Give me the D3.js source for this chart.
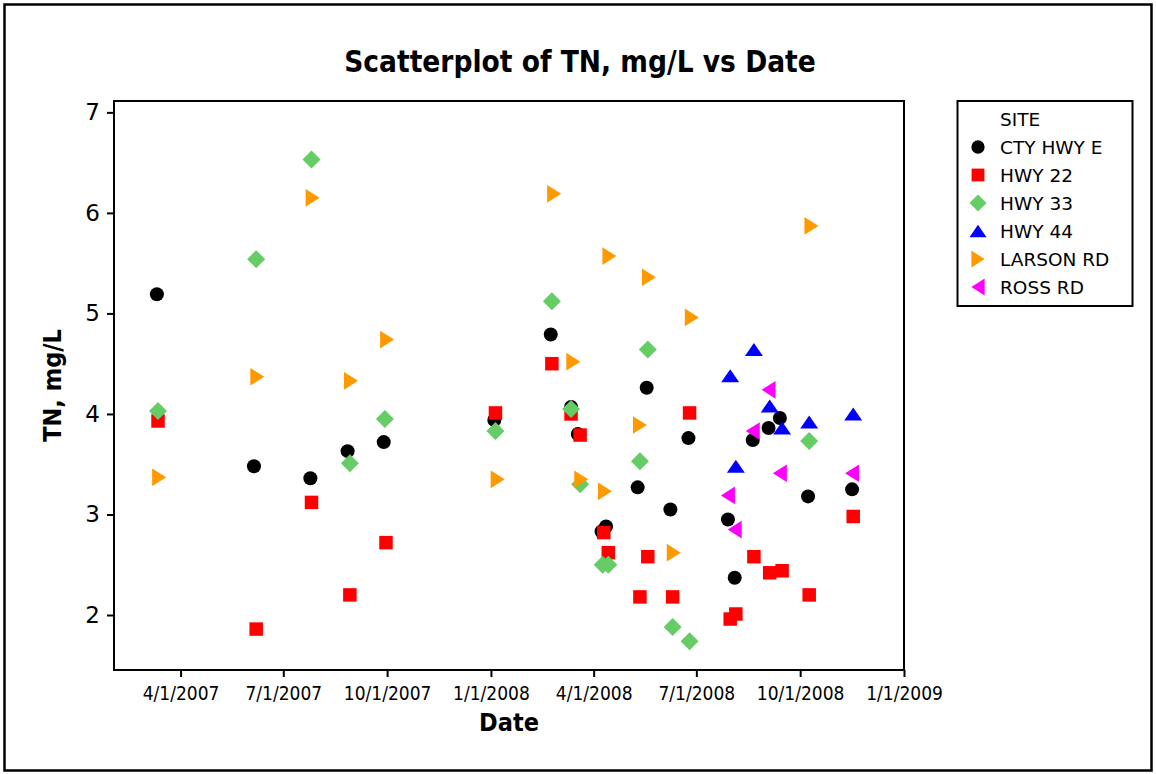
<!DOCTYPE html>
<html><head><meta charset="utf-8">
<script src="https://cdn.jsdelivr.net/npm/d3@7"></script>
<style>body{margin:0;background:#fff} svg{display:block}</style>
</head><body><svg id="c" width="1156" height="774"></svg>
<script>
// ---- data ----
const siteNames = ["CTY HWY E", "HWY 22", "HWY 33", "HWY 44", "LARSON RD", "ROSS RD"];
const siteColors = ["#000000", "#FF0000", "#66CC66", "#0000FF", "#FF9900", "#FF00FF"];

const ctyDates = ["2007-03-11","2007-06-05","2007-07-25","2007-08-27","2007-09-28","2008-01-04","2008-02-23","2008-03-12","2008-03-18","2008-04-08","2008-04-12","2008-05-10","2008-05-18","2008-06-08","2008-06-24","2008-07-29","2008-08-04","2008-08-20","2008-09-03","2008-09-13","2008-10-08","2008-11-16"];
const ctyValues = [5.19,3.48,3.36,3.63,3.72,3.94,4.79,4.07,3.80,2.83,2.88,3.27,4.26,3.05,3.76,2.95,2.37,3.74,3.86,3.96,3.18,3.25];

const hwy22Dates = ["2007-03-12","2007-06-07","2007-07-26","2007-08-29","2007-09-30","2008-01-05","2008-02-24","2008-03-12","2008-03-20","2008-04-10","2008-04-14","2008-05-12","2008-05-19","2008-06-10","2008-06-25","2008-07-31","2008-08-05","2008-08-21","2008-09-04","2008-09-15","2008-10-09","2008-11-17"];
const hwy22Values = [3.93,1.86,3.12,2.20,2.72,4.01,4.50,4.00,3.79,2.82,2.62,2.18,2.58,2.18,4.01,1.96,2.01,2.58,2.42,2.44,2.20,2.98];

const hwy33Dates = ["2007-03-12","2007-06-07","2007-07-26","2007-08-29","2007-09-29","2008-01-05","2008-02-24","2008-03-12","2008-03-20","2008-04-09","2008-04-14","2008-05-12","2008-05-19","2008-06-10","2008-06-25","2008-10-09"];
const hwy33Values = [4.03,5.54,6.53,3.51,3.95,3.83,5.12,4.05,3.30,2.50,2.50,3.53,4.64,1.88,1.74,3.73];

const hwy44Dates = ["2008-07-31","2008-08-05","2008-08-21","2008-09-04","2008-09-15","2008-10-09","2008-11-17"];
const hwy44Values = [4.38,3.48,4.64,4.08,3.86,3.92,4.00];

const larsonDates = ["2007-03-13","2007-06-08","2007-07-27","2007-08-30","2007-10-01","2008-01-07","2008-02-26","2008-03-14","2008-03-21","2008-04-11","2008-04-15","2008-05-12","2008-05-20","2008-06-11","2008-06-27","2008-10-11"];
const larsonValues = [3.37,4.37,6.15,4.33,4.74,3.35,6.19,4.52,3.35,3.23,5.57,3.89,5.36,2.62,4.96,5.87];

const rossDates = ["2008-07-29","2008-08-04","2008-08-20","2008-09-03","2008-09-13","2008-11-16"];
const rossValues = [3.19,2.85,3.83,4.24,3.41,3.41];

const xTickDates = ["2007-04-01","2007-07-01","2007-10-01","2008-01-01","2008-04-01","2008-07-01","2008-10-01","2009-01-01"];
const xTickLabels = ["4/1/2007","7/1/2007","10/1/2007","1/1/2008","4/1/2008","7/1/2008","10/1/2008","1/1/2009"];
const yTicks = [2, 3, 4, 5, 6, 7];

// ---- setup ----
const parse = d3.timeParse("%Y-%m-%d");
const svg = d3.select("#c");
const COND = '"DejaVu Sans Condensed","DejaVu Sans",sans-serif';
const REG = '"DejaVu Sans",sans-serif';

const L = 114, R = 904, T = 101, B = 670;
const x = d3.scaleTime().domain([new Date(2007,1,1), new Date(2009,0,1)]).range([L, R]);
const y = d3.scaleLinear().domain([1.453, 7.113]).range([B, T]);

// outer border
svg.append("rect").attr("x",4.5).attr("y",4.5).attr("width",1147).attr("height",766)
  .attr("fill","none").attr("stroke","#000").attr("stroke-width",2.5);

// title
svg.append("text").attr("x",580).attr("y",72).attr("text-anchor","middle")
  .attr("font-family",COND).attr("font-weight","bold").attr("font-size",29.5)
  .text("Scatterplot of TN, mg/L vs Date");

// axes
const xAxis = d3.axisBottom(x).tickValues(xTickDates.map(parse))
  .tickFormat((d,i) => xTickLabels[i]).tickSize(7).tickSizeOuter(0);
const gx = svg.append("g").attr("transform",`translate(0,${B})`).call(xAxis);
gx.select(".domain").remove();
gx.selectAll("line").attr("stroke","#000").attr("stroke-width",2);
gx.selectAll("text").attr("font-family",COND).attr("font-size",19).attr("fill","#000").attr("dy","1.05em");

const yAxis = d3.axisLeft(y).tickValues(yTicks).tickFormat(d3.format("d")).tickSize(7).tickSizeOuter(0);
const gy = svg.append("g").attr("transform",`translate(${L},0)`).call(yAxis);
gy.select(".domain").remove();
gy.selectAll("line").attr("stroke","#000").attr("stroke-width",2);
gy.selectAll("text").attr("font-family",REG).attr("font-size",23).attr("fill","#000").attr("x",-14);

// frame
svg.append("rect").attr("x",L).attr("y",T).attr("width",R-L).attr("height",B-T)
  .attr("fill","none").attr("stroke","#000").attr("stroke-width",2);

// axis titles
svg.append("text").attr("x",(L+R)/2).attr("y",731).attr("text-anchor","middle")
  .attr("font-family",COND).attr("font-weight","bold").attr("font-size",25).text("Date");
svg.append("text").attr("transform",`translate(61,${(T+B)/2}) rotate(-90)`).attr("text-anchor","middle")
  .attr("font-family",COND).attr("font-weight","bold").attr("font-size",25).text("TN, mg/L");

// ---- symbols ----
const shapeCircle = {draw(c,s){const r=s/2; c.moveTo(r,0); c.arc(0,0,r,0,2*Math.PI);}};
const shapeSquare = {draw(c,s){const h=s/2; c.rect(-h,-h,s,s);}};
const shapeDiamond = {draw(c,s){const h=s/2; c.moveTo(0,-h); c.lineTo(h,0); c.lineTo(0,h); c.lineTo(-h,0); c.closePath();}};
const shapeTriUp = {draw(c,s){const w=s/2, h=s*13/18/2; c.moveTo(0,-h); c.lineTo(w,h); c.lineTo(-w,h); c.closePath();}};
const shapeTriRight = {draw(c,s){const h=s/2, w=s*14/17.7/2; c.moveTo(w,0); c.lineTo(-w,h); c.lineTo(-w,-h); c.closePath();}};
const shapeTriLeft = {draw(c,s){const h=s/2, w=s*14/17.7/2; c.moveTo(-w,0); c.lineTo(w,-h); c.lineTo(w,h); c.closePath();}};
const siteShapes = [shapeCircle, shapeSquare, shapeDiamond, shapeTriUp, shapeTriRight, shapeTriLeft];
const siteSizes = [14, 13.5, 18, 18, 17.7, 17.7];

const seriesDates = [ctyDates, hwy22Dates, hwy33Dates, hwy44Dates, larsonDates, rossDates];
const seriesValues = [ctyValues, hwy22Values, hwy33Values, hwy44Values, larsonValues, rossValues];

seriesDates.forEach((dates, si) => {
  const pts = dates.map((d,i) => ({date: parse(d), v: seriesValues[si][i]}));
  const sym = d3.symbol().type(siteShapes[si]).size(siteSizes[si]);
  svg.append("g").selectAll("path").data(pts).join("path")
    .attr("d", sym)
    .attr("transform", d => `translate(${x(d.date)},${y(d.v)})`)
    .attr("fill", siteColors[si]);
});

// ---- legend ----
const lg = svg.append("g");
lg.append("rect").attr("x",957.5).attr("y",101).attr("width",175).attr("height",205)
  .attr("fill","#fff").attr("stroke","#000").attr("stroke-width",2);
lg.append("text").attr("x",1000).attr("y",119).attr("dominant-baseline","central")
  .attr("font-family",REG).attr("font-size",18.5).text("SITE");
siteNames.forEach((n,i) => {
  const yy = 147 + i*28;
  lg.append("path").attr("d", d3.symbol().type(siteShapes[i]).size(siteSizes[i]*0.95)())
    .attr("transform",`translate(978,${yy})`).attr("fill",siteColors[i]);
  lg.append("text").attr("x",1000).attr("y",yy).attr("dominant-baseline","central")
    .attr("font-family",REG).attr("font-size",18.5).text(n);
});
</script></body></html>
